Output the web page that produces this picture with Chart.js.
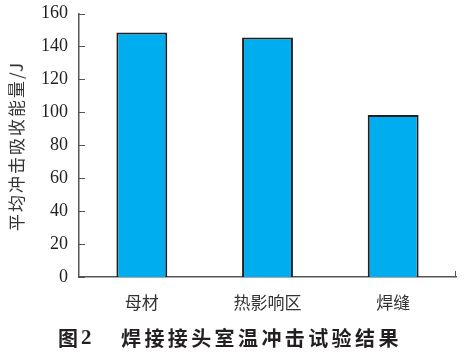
<!DOCTYPE html>
<html>
<head>
<meta charset="utf-8">
<script src="https://cdn.jsdelivr.net/npm/chart.js@4/dist/chart.umd.min.js"></script>
<style>
html,body{margin:0;padding:0;background:#fff;}
#wrap{width:466px;height:355px;position:relative;}
</style>
</head>
<body>
<div id="wrap"><canvas id="c" width="466" height="355"></canvas></div>
<script>
const categories = ['母材', '热影响区', '焊缝'];
const energyValues = [148.5, 145.5, 98.4];
const yTicks = [0, 20, 40, 60, 80, 100, 120, 140, 160];
const yAxisTitle = '平均冲击吸收能量/J';
const figLabel = '图2';
const figTitle = '焊接接头室温冲击试验结果';

const serif = '"Liberation Serif", "Times New Roman", serif';
const cjk = '"Noto Sans CJK SC", sans-serif';

const decor = {
  id: 'decor',
  afterDraw(chart) {
    const ctx = chart.ctx;
    const y = chart.scales.y, x = chart.scales.x;
    const ca = chart.chartArea;
    ctx.save();
    ctx.strokeStyle = '#555';
    ctx.lineWidth = 1;
    yTicks.forEach(v => {
      const py = Math.round(y.getPixelForValue(v)) + 0.5;
      ctx.beginPath();
      ctx.moveTo(ca.left, py);
      ctx.lineTo(ca.left + 6, py);
      ctx.stroke();
    });
    ctx.beginPath();
    ctx.moveTo(ca.right - 0.5, ca.bottom);
    ctx.lineTo(ca.right - 0.5, ca.bottom - 6);
    ctx.stroke();
    ctx.fillStyle = '#333';
    ctx.font = '17px ' + cjk;
    ctx.letterSpacing = '2px';
    ctx.textAlign = 'center';
    ctx.textBaseline = 'middle';
    ctx.translate(17, 146);
    ctx.rotate(-Math.PI / 2);
    ctx.fillText(yAxisTitle, 0, 0);
    ctx.restore();
    ctx.save();
    ctx.fillStyle = '#231F20';
    ctx.textBaseline = 'middle';
    ctx.textAlign = 'left';
    ctx.font = 'bold 20px ' + cjk;
    ctx.letterSpacing = '0px';
    ctx.fillText(figLabel.slice(0, 1), 58, 338);
    ctx.font = 'bold 21px ' + serif;
    ctx.fillText(figLabel.slice(1), 81, 339);
    ctx.font = 'bold 20px ' + cjk;
    ctx.letterSpacing = '3.4px';
    ctx.fillText(figTitle, 121, 338);
    ctx.restore();
  }
};

new Chart(document.getElementById('c'), {
  type: 'bar',
  data: {
    labels: categories,
    datasets: [{
      data: energyValues,
      backgroundColor: '#00AEEF',
      borderColor: '#231F20',
      borderWidth: 2,
      barPercentage: 0.405,
      categoryPercentage: 1.0
    }]
  },
  options: {
    responsive: false,
    animation: false,
    devicePixelRatio: 1,
    layout: { padding: { top: 13.5, right: 10, bottom: 0, left: 0 } },
    plugins: { legend: { display: false }, tooltip: { enabled: false }, title: { display: false } },
    scales: {
      x: {
        grid: { display: false, drawTicks: false },
        border: { display: true, color: '#555', width: 1.5 },
        ticks: { color: '#333', font: { family: cjk, size: 17 }, padding: 15 },
        afterFit(s) { s.height = 78; s.paddingLeft = 0; s.paddingRight = 0; }
      },
      y: {
        min: 0, max: 160,
        afterBuildTicks(s) { s.ticks = yTicks.map(v => ({ value: v })); },
        grid: { display: false, drawTicks: false },
        border: { display: true, color: '#555', width: 1.5 },
        ticks: { color: '#231F20', font: { family: serif, size: 18 }, padding: 11 },
        afterFit(s) { s.width = 79; s.paddingTop = 0; s.paddingBottom = 0; }
      }
    }
  },
  plugins: [decor]
});
</script>
</body>
</html>
